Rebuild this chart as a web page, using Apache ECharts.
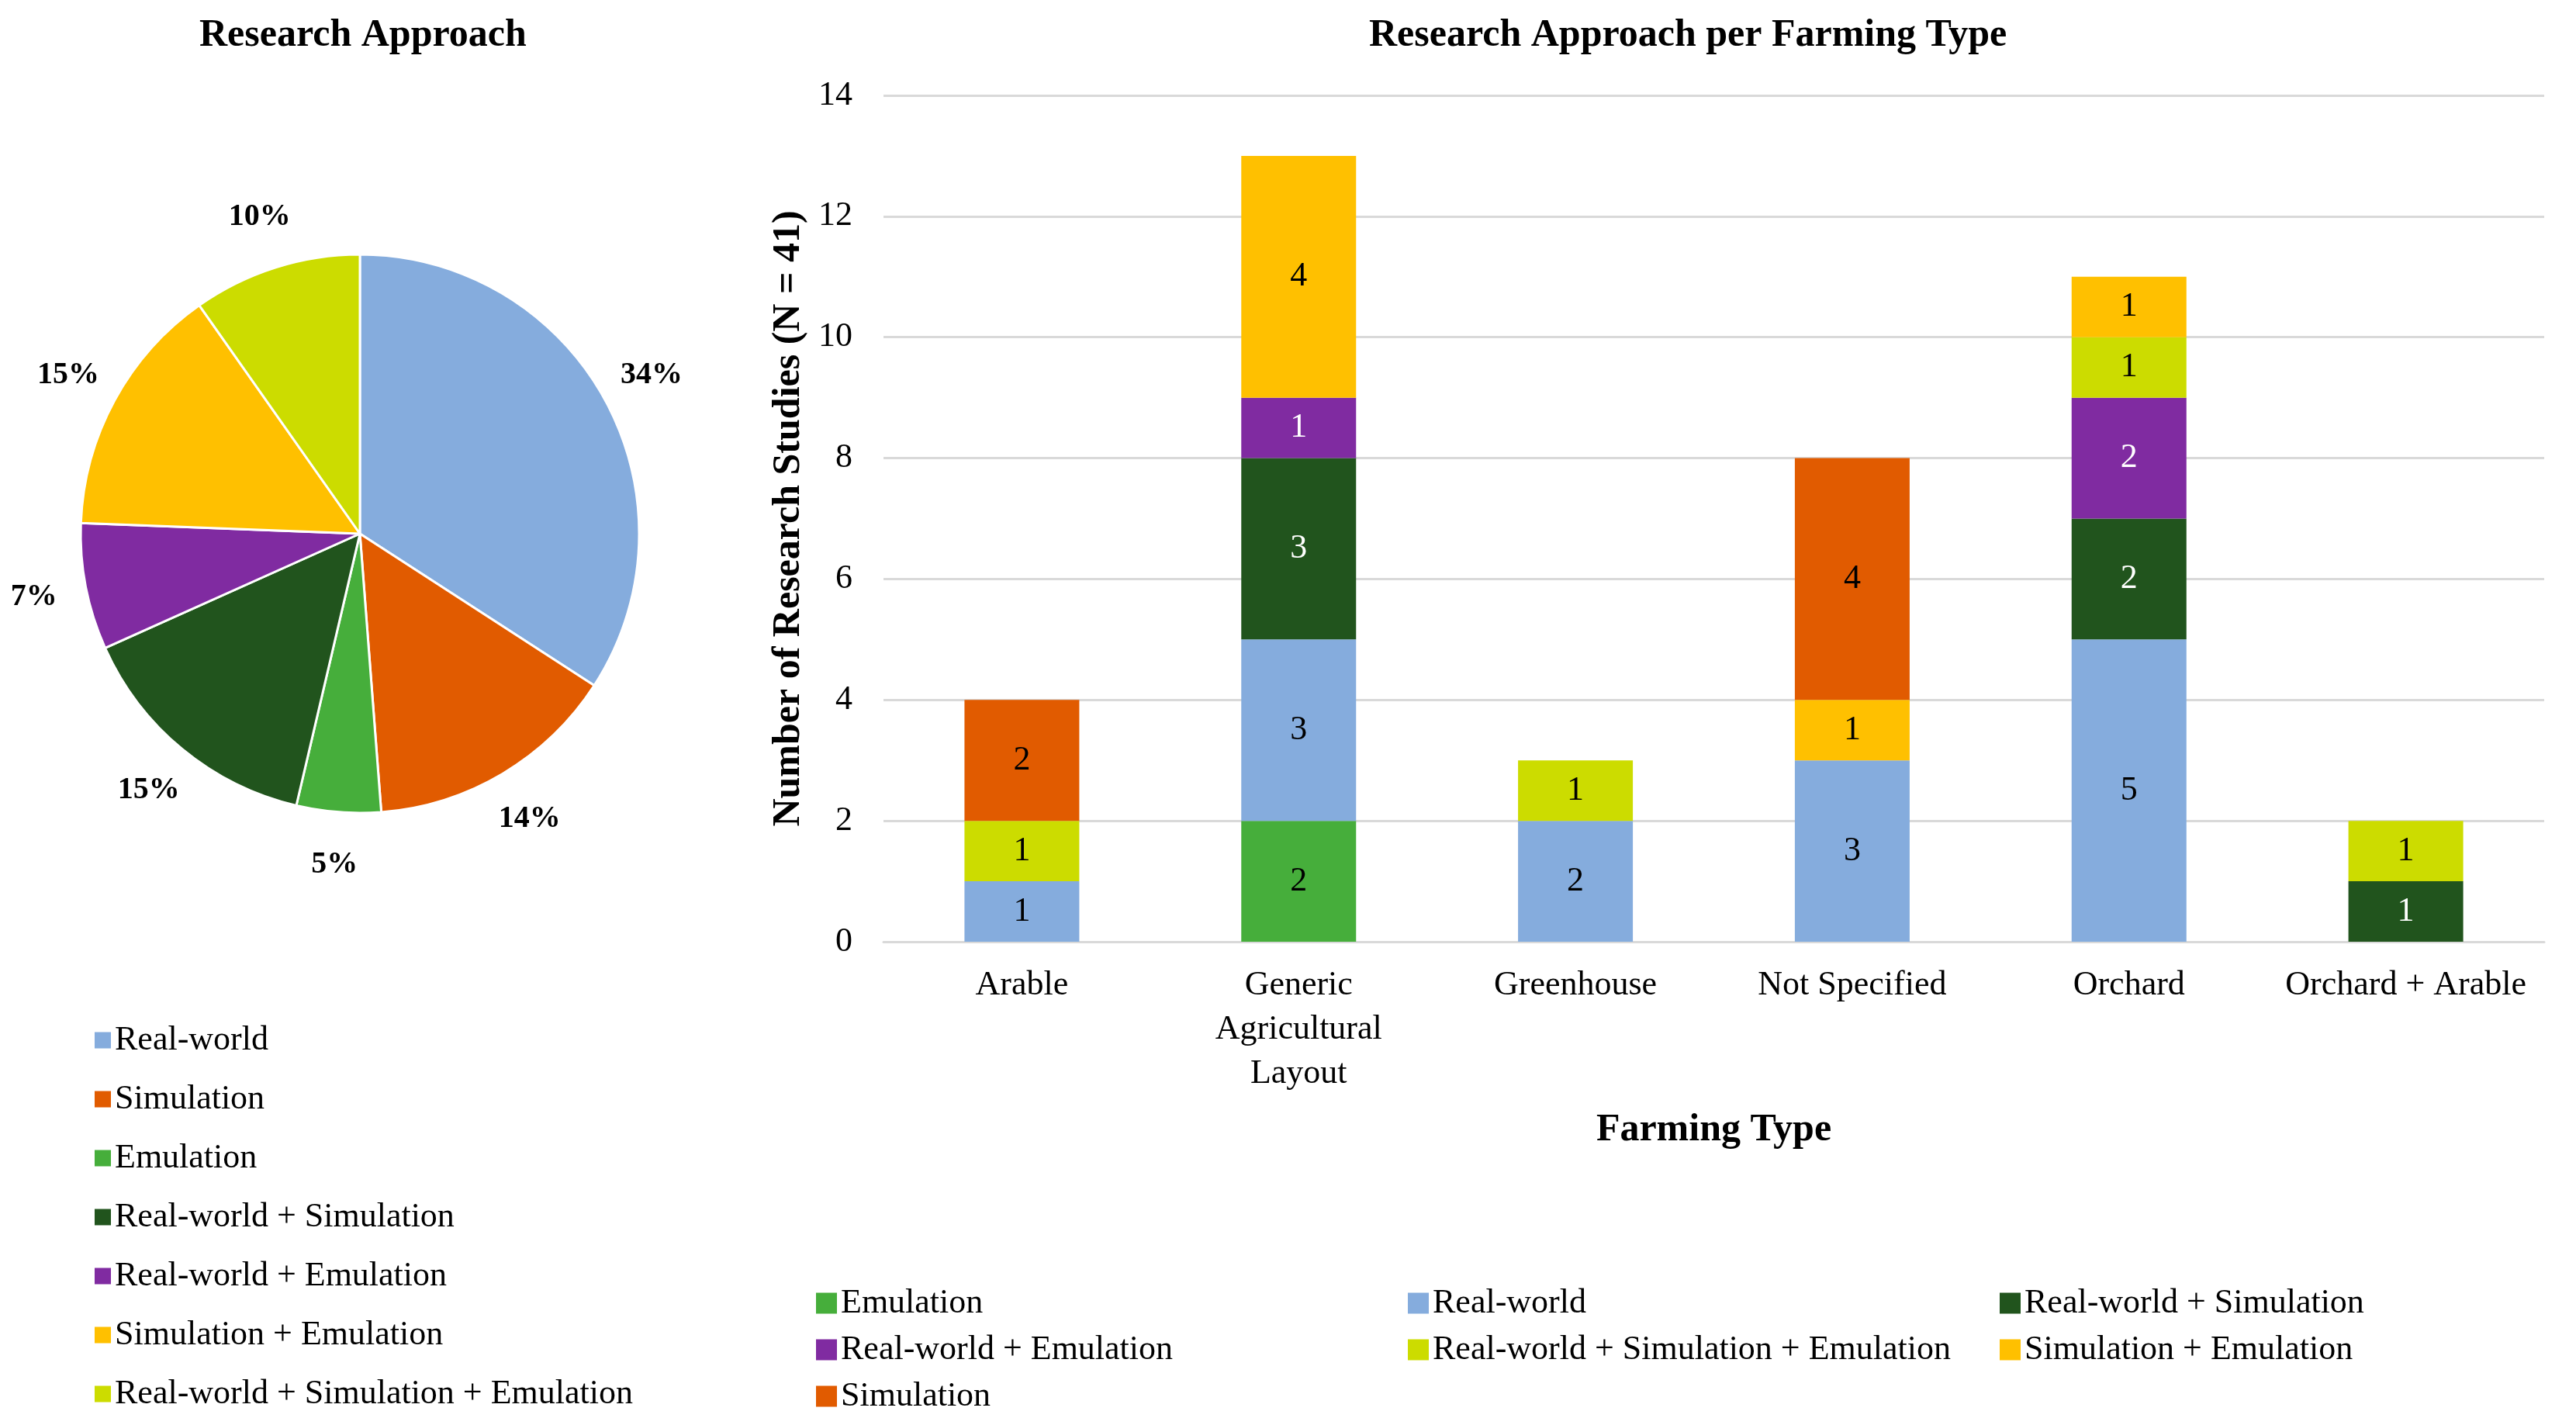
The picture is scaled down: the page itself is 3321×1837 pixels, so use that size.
<!DOCTYPE html>
<html>
<head>
<meta charset="utf-8">
<script src="https://cdn.jsdelivr.net/npm/echarts@6/dist/echarts.min.js"></script>
<style>
html,body{margin:0;padding:0;background:#fff;}
#c{width:3321px;height:1837px;}
</style>
</head>
<body>
<div id="c"></div>
<script>
// ---- Pie data ----
var pieNames = ['Real-world', 'Simulation', 'Emulation', 'Real-world + Simulation', 'Real-world + Emulation', 'Simulation + Emulation', 'Real-world + Simulation + Emulation'];
var pieValues = [14, 6, 2, 6, 3, 6, 4];
var pieLabels = ['34%', '14%', '5%', '15%', '7%', '15%', '10%'];

// ---- Bar data ----
var categories = ['Arable', 'Generic\nAgricultural\nLayout', 'Greenhouse', 'Not Specified', 'Orchard', 'Orchard + Arable'];
var seriesNames = ['Emulation', 'Real-world', 'Real-world + Simulation', 'Real-world + Emulation', 'Real-world + Simulation + Emulation', 'Simulation + Emulation', 'Simulation'];
var emulation = [0, 2, 0, 0, 0, 0];
var realWorld = [1, 3, 2, 3, 5, 0];
var realSim = [0, 3, 0, 0, 2, 1];
var realEmu = [0, 1, 0, 0, 2, 0];
var realSimEmu = [1, 0, 1, 0, 1, 1];
var simEmu = [0, 4, 0, 1, 1, 0];
var simulation = [2, 0, 0, 4, 0, 0];
var yTicks = [0, 2, 4, 6, 8, 10, 12, 14];

var colors = {
  'Real-world': '#85ACDD',
  'Simulation': '#E15B00',
  'Emulation': '#46AE3B',
  'Real-world + Simulation': '#21541D',
  'Real-world + Emulation': '#802BA1',
  'Simulation + Emulation': '#FFC000',
  'Real-world + Simulation + Emulation': '#CCDC00'
};
var labelColors = {
  'Real-world + Simulation': '#ffffff',
  'Real-world + Emulation': '#ffffff'
};
var seriesData = [emulation, realWorld, realSim, realEmu, realSimEmu, simEmu, simulation];

var FONT = "'Liberation Serif', serif";

var chart = echarts.init(document.getElementById('c'));

var barSeries = seriesNames.map(function (name, i) {
  return {
    name: name,
    type: 'bar',
    stack: 'total',
    barWidth: 148,
    data: seriesData[i],
    itemStyle: { color: colors[name] },
    label: {
      show: true,
      position: 'inside',
      fontFamily: FONT,
      fontSize: 44,
      color: labelColors[name] || '#000000',
      formatter: function (p) { return p.value ? String(p.value) : ''; }
    },
    silent: true
  };
});

var option = {
  animation: false,
  backgroundColor: '#ffffff',
  title: [
    {
      text: 'Research Approach',
      left: 252, top: 16,
      textStyle: { fontFamily: FONT, fontSize: 50, fontWeight: 'bold', color: '#000' }
    },
    {
      text: 'Research Approach per Farming Type',
      left: 1760, top: 16,
      textStyle: { fontFamily: FONT, fontSize: 50, fontWeight: 'bold', color: '#000' }
    }
  ],
  legend: [
    {
      data: pieNames,
      orient: 'vertical',
      left: 117, top: 1311,
      icon: 'rect',
      itemWidth: 21, itemHeight: 21,
      itemGap: 26,
      itemTextGap: 14,
      textStyle: { fontFamily: FONT, fontSize: 44, lineHeight: 50, color: '#000' },
      selectedMode: false
    },
    {
      data: seriesNames,
      orient: 'horizontal',
      left: 1047, top: 1650,
      width: 2320,
      icon: 'rect',
      itemWidth: 27, itemHeight: 27,
      itemGap: 10,
      itemTextGap: 9,
      textStyle: { fontFamily: FONT, fontSize: 44, lineHeight: 50, color: '#000', width: 721, overflow: 'none' },
      selectedMode: false
    }
  ],
  grid: { left: 1139, right: 41, top: 123, bottom: 623, containLabel: false },
  xAxis: {
    type: 'category',
    data: categories,
    name: 'Farming Type',
    nameLocation: 'middle',
    nameGap: 218,
    nameTextStyle: { fontFamily: FONT, fontSize: 50, fontWeight: 'bold', color: '#000', lineHeight: 50 },
    axisLine: { lineStyle: { color: '#D9D9D9', width: 3 } },
    axisTick: { show: false },
    axisLabel: { fontFamily: FONT, fontSize: 44, lineHeight: 57, color: '#000', margin: 28, interval: 0 }
  },
  yAxis: {
    type: 'value',
    min: yTicks[0], max: yTicks[yTicks.length - 1], interval: 2,
    name: 'Number of Research Studies (N = 41)',
    nameLocation: 'middle',
    nameGap: 97,
    nameTextStyle: { fontFamily: FONT, fontSize: 50, fontWeight: 'bold', color: '#000', lineHeight: 50 },
    axisLine: { show: false },
    axisTick: { show: false },
    axisLabel: { fontFamily: FONT, fontSize: 44, color: '#000', margin: 40 },
    splitLine: { lineStyle: { color: '#D9D9D9', width: 3 } }
  },
  series: [
    {
      type: 'pie',
      center: [464, 688],
      radius: [0, 360],
      startAngle: 90,
      clockwise: true,
      silent: true,
      data: pieNames.map(function (n, i) { return { name: n, value: pieValues[i], itemStyle: { color: colors[n] } }; }),
      itemStyle: { borderColor: '#ffffff', borderWidth: 3 },
      label: { show: false },
      labelLine: { show: false }
    },
    {
      type: 'pie',
      center: [464, 688],
      radius: [360, 490],
      startAngle: 90,
      clockwise: true,
      silent: true,
      legendHoverLink: false,
      data: pieValues.map(function (v) { return { value: v }; }),
      itemStyle: { color: 'rgba(0,0,0,0)' },
      label: {
        show: true,
        position: 'inside',
        fontFamily: FONT, fontSize: 40, fontWeight: 'bold', color: '#000',
        formatter: function (p) { return pieLabels[p.dataIndex]; }
      },
      labelLine: { show: false }
    }
  ].concat(barSeries)
};
chart.setOption(option);
</script>
</body>
</html>
